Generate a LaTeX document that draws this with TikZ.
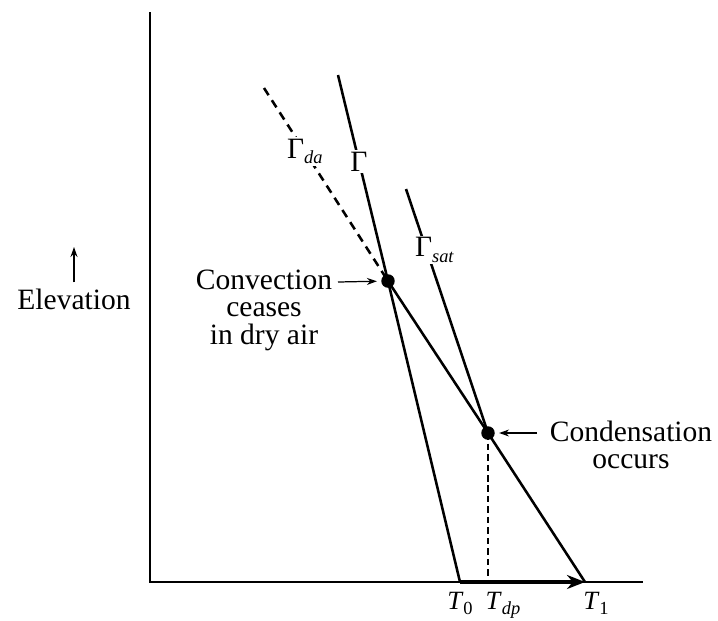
\documentclass[tikz,border=0pt]{standalone}
\usepackage{fontspec}
\setmainfont{Liberation Serif}
\usetikzlibrary{arrows.meta, positioning, calc}

\newcommand{\sublbl}[2]{#1\raisebox{-0.4ex}{\fontsize{10.5}{10}\selectfont #2}}

\begin{document}
\begin{tikzpicture}[x=0.02cm, y=-0.02cm,
    font=\fontsize{16.8}{15.6}\selectfont,
    axis/.style={line width=1.5pt},
    lapse/.style={line width=1.45pt},
    dashline/.style={line width=1.45pt, dash pattern=on 0.17cm off 0.12cm},
    dot/.style={circle, fill=black, inner sep=0pt, minimum size=0.27cm},
    gap/.style={fill=white, inner sep=1pt},
    note/.style={align=center, inner sep=0pt},
    tlabel/.style={inner sep=0pt, font=\fontsize{15}{15}\selectfont},
    pointer/.style={-{Stealth[length=0.2cm, width=0.14cm]}, line width=0.7pt},
    heat/.style={-{Stealth[length=0.36cm, width=0.28cm]}, line width=2pt}
  ]
  \useasboundingbox (0,0) rectangle (718,620);

  % axes
  \coordinate (origin) at (150,582);
  \coordinate (ytop) at (150,12);
  \coordinate (xend) at (643,582);
  \draw[axis] (ytop) -- (origin) -- (xend);

  % temperatures on the axis
  \coordinate (T0) at (460,582);
  \coordinate (Tdp) at (488,582);
  \coordinate (T1) at (585,582);

  % points of the profiles
  \node[dot] (dry) at (388,281) {};
  \node[dot] (cond) at (488,433) {};
  \coordinate (gtop) at (338,75);
  \coordinate (datop) at (264,88);
  \coordinate (sattop) at (406,189);

  % lapse rates
  \draw[dashline] (datop) -- node[gap, pos=0.33] {\sublbl{Γ}{\textit{da}}} (dry.center);
  \draw[lapse] (gtop) -- node[gap, pos=0.42] {Γ} (dry.center) -- (T0);
  \draw[lapse] (sattop) -- node[gap, pos=0.25, xshift=0.16cm] {\sublbl{Γ}{\textit{sat}}} (cond.center);
  \draw[lapse] (dry.center) -- (cond.center) -- (T1);
  \draw[dashline, dash pattern=on 0.13cm off 0.08cm] (cond.center) -- (Tdp);
  \draw[heat] (T0) -- (T1);

  % axis labels
  \node[tlabel, below=0.2cm of T0] (lblT0) {\sublbl{\textit{T}}{0}};
  \node[tlabel, below=0.2cm of Tdp, xshift=0.3cm] (lblTdp) {\sublbl{\textit{T}}{\textit{dp}}};
  \node[tlabel, below=0.2cm of T1, xshift=0.22cm] (lblT1) {\sublbl{\textit{T}}{1}};

  \node (elev) at (74,299) {Elevation};
  \coordinate (elevtip) at (74,247);
  \draw[pointer] (elev.north) -- (elevtip);

  % notes
  \node[note] (conv) at (264,310) {Convection\\ceases\\in dry air};
  \coordinate (convfrom) at (338,282);
  \draw[pointer, shorten >=0.08cm] (convfrom) -- (dry);

  \node[note] (condtxt) at (631,445) {Condensation\\occurs};
  \coordinate (condfrom) at (537,433);
  \draw[pointer, shorten >=0.08cm] (condfrom) -- (cond);
\end{tikzpicture}
\end{document}
